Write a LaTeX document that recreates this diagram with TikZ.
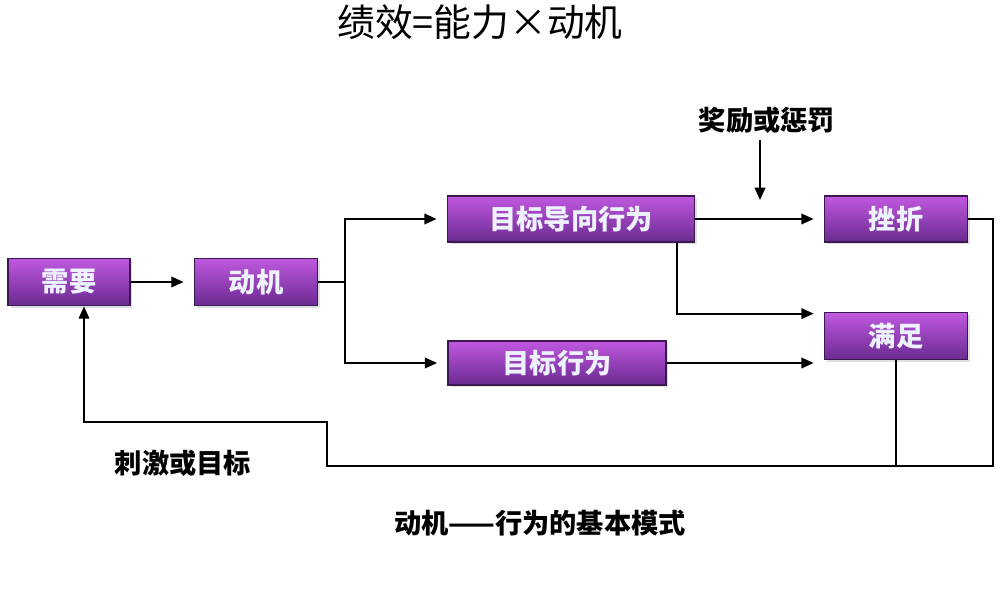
\documentclass[tikz,border=0pt]{standalone}
\usepackage{fontspec}
\setmainfont{Noto Sans CJK SC}
\usepackage{tikz}
\usetikzlibrary{positioning,calc,arrows.meta,shadows}
\definecolor{boxTop}{HTML}{C058E0}
\definecolor{boxMid}{HTML}{9C48C4}
\definecolor{boxBot}{HTML}{6A2A90}
\definecolor{boxLine}{HTML}{3A1850}
\definecolor{boxText}{HTML}{EEF2FF}

\begin{document}
\begin{tikzpicture}[x=0.02cm, y=-0.02cm,
        every node/.style={font=\bfseries\fontsize{15.5}{18}\selectfont, align=center, inner sep=0pt},
        procbox/.style={draw=boxLine, line width=1pt, top color=boxTop, middle color=boxMid, bottom color=boxBot,
            text=boxText, minimum height=0.94cm, drop shadow={shadow xshift=0.05cm, shadow yshift=-0.05cm, opacity=0.25}},
        link/.style={line width=1.1pt},
        arr/.style={link, -{Triangle[length=7pt, width=6pt]}, shorten >=0.2cm}]
        \useasboundingbox (0,0) rectangle (1000,594);
        % title and labels
        \node[font=\fontsize{21.5}{24}\selectfont] (title) at (480,22) {绩效=能力×动机};
        \node (reward) at (767,120) {奖励或惩罚};
        \node (stim) at (183,463) {刺激或目标};
        \node (caption) at (540,523) {动机——行为的基本模式};
        % boxes
        \node[procbox, minimum width=2.44cm] (need) at (69,282) {需要};
        \node[procbox, minimum width=2.46cm] (motive) at (256,282) {动机};
        \node[procbox, minimum width=4.94cm, minimum height=0.92cm] (goaldir) at (571,219) {目标导向行为};
        \node[procbox, minimum width=4.36cm, minimum height=0.88cm] (goalbeh) at (557,363) {目标行为};
        \node[procbox, minimum width=2.86cm, minimum height=0.92cm] (frust) at (896,219) {挫折};
        \node[procbox, minimum width=2.86cm] (sat) at (896,336) {满足};
        % connectors
        \coordinate (fork) at (345,282);
        \coordinate (rewtip) at (760,200);
        \coordinate (loopR) at (993,466);
        \coordinate (loopM) at (327,466);
        \coordinate (loopL) at (84,422);
        \draw[arr] (need) -- (motive);
        \draw[link] (motive.east) -- (fork);
        \draw[arr] (fork) |- (goaldir.west);
        \draw[arr] (fork) |- (goalbeh.west);
        \draw[arr] (goaldir.east) -- (goaldir.east -| frust.west);
        \draw[arr] ([xshift=-0.36cm]goaldir.south east) |- ([yshift=-0.04cm]sat.north west);
        \draw[arr] (goalbeh.east) -- (goalbeh.east -| sat.west);
        \draw[arr, shorten >=0pt] (reward.south) ++(-7,6) -- (rewtip);
        \draw[arr, shorten >=0pt] (frust.east) -| (loopR) -- (loopM) |- (loopL) -- (loopL |- need.south);
        \draw[link] (sat.south) -- (sat.south |- loopR);
    \end{tikzpicture}
\end{document}
